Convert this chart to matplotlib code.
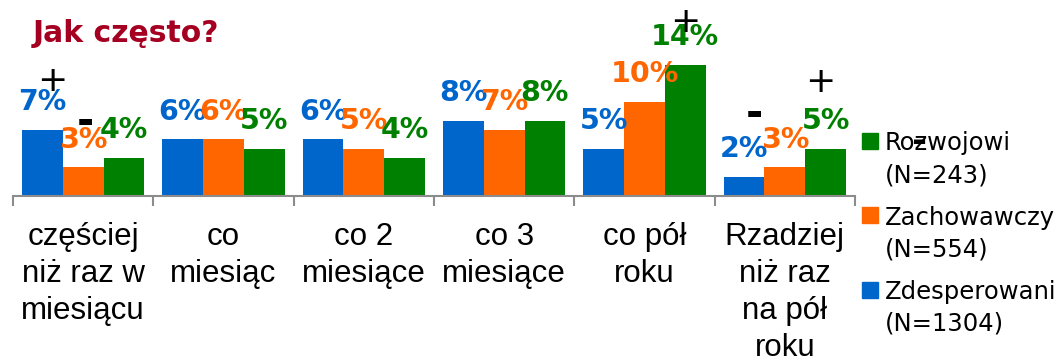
import matplotlib
matplotlib.use("Agg")
import matplotlib.pyplot as plt
from matplotlib.patches import Rectangle
import numpy as np

# data
categories = ["częściej\nniż raz w\nmiesiącu", "co\nmiesiąc", "co 2\nmiesiące",
              "co 3\nmiesiące", "co pół\nroku", "Rzadziej\nniż raz\nna pół\nroku"]
zdesperowani = [7, 6, 6, 8, 5, 2]
zachowawczy = [3, 6, 5, 7, 10, 3]
rozwojowi = [4, 5, 4, 8, 14, 5]

series_names = ["Zdesperowani", "Zachowawczy", "Rozwojowi"]
series_n = ["(N=1304)", "(N=554)", "(N=243)"]
colors = ["#0066CC", "#FF6600", "#008000"]

# +/- markers: (category, series, sign, dx px, dy px above bar top)
signs = [(0, 0, "+", 10, 49), (0, 1, "-", 2, 45), (4, 2, "+", 0, 43),
         (5, 0, "-", 10, 63), (5, 2, "+", -5, 67)]

W, H = 1056, 363
fig = plt.figure(figsize=(W / 100, H / 100), dpi=100)
ax = fig.add_axes([13 / W, (H - 195.5) / H, (855 - 13) / W, 149.6 / H])

x = np.arange(len(categories))
bw = 0.29
all_vals = [zdesperowani, zachowawczy, rozwojowi]
bars = []
for i, vals in enumerate(all_vals):
    b = ax.bar(x + (i - 1) * bw, vals, bw, color=colors[i], zorder=2)
    bars.append(b)
    for rect, v in zip(b, vals):
        ax.annotate(f"{v}%", (rect.get_x() + rect.get_width() / 2, v),
                    xytext=(0, 20), textcoords="offset points",
                    ha="center", va="center", fontsize=20.5, fontweight="bold",
                    color=colors[i], zorder=3)

pt = 72 / 100
for c, s, sym, dx, dy in signs:
    rect = bars[s][c]
    ax.annotate(sym, (rect.get_x() + rect.get_width() / 2, rect.get_height()),
                xytext=(dx * pt, dy * pt), textcoords="offset points",
                ha="center", va="center", fontsize=26 if sym == "+" else 30,
                fontweight="normal" if sym == "+" else "bold",
                color="black", zorder=4, annotation_clip=False)

ax.set_xlim(-0.5, len(categories) - 0.5)
ax.set_ylim(0, 16)
ax.set_yticks([])
for sp in ["top", "right", "left"]:
    ax.spines[sp].set_visible(False)
ax.spines["bottom"].set_color("#8c8c8c")
ax.spines["bottom"].set_linewidth(1.5)

ax.set_xticks(x)
ax.set_xticklabels(categories, fontsize=22.5, family="Liberation Sans",
                   linespacing=1.3)
ax.tick_params(axis="x", which="major", length=0, pad=19)
ax.set_xticks(np.arange(len(categories) + 1) - 0.5, minor=True)
ax.tick_params(axis="x", which="minor", length=7, width=1.5, color="#8c8c8c",
               direction="out")

# title
fig.text(33 / W, 1 - 42 / H, "Jak często?", fontsize=21.5, fontweight="bold",
         color="#A50021", va="baseline", ha="left")

# legend (top entry is the last series)
sq = 16
for k, i in enumerate(reversed(range(len(series_names)))):
    cy = 141 + k * 74.5
    fig.patches.append(Rectangle((862 / W, 1 - (cy + sq / 2) / H), sq / W, sq / H,
                                 transform=fig.transFigure, color=colors[i],
                                 figure=fig))
    fig.text(885 / W, 1 - (cy + 2) / H, series_names[i], fontsize=17.5,
             va="center", ha="left")
    fig.text(885 / W, 1 - (cy + 34) / H, series_n[i], fontsize=17.5,
             va="center", ha="left")

# stray minus over the legend
fig.text(920 / W, 1 - 142 / H, "-", fontsize=26, fontweight="bold",
         va="center", ha="center")

fig.savefig("out.png", dpi=100)
